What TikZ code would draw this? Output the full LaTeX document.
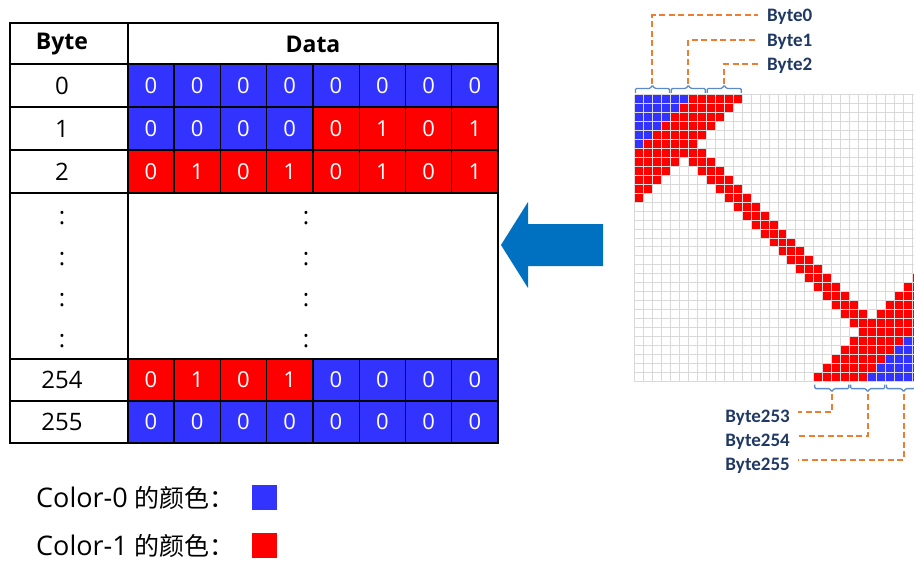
\documentclass[tikz,border=0pt]{standalone}
\usepackage{fontspec}
\setmainfont{Open Sans}
\newfontfamily\cjk{Noto Sans CJK SC}
\newfontfamily\lab{Carlito}
\usetikzlibrary{calc}
\definecolor{cblue}{HTML}{3333FF}
\definecolor{cred}{HTML}{FF0000}
\definecolor{arrowblue}{HTML}{0070C0}
\definecolor{dashor}{HTML}{ED7D31}
\definecolor{navy}{HTML}{1F3864}
\definecolor{brk}{HTML}{5B8BC5}
\definecolor{gridgray}{HTML}{D9D9D9}
\newcommand\datarow[5]{% #1 name, #2 y centre, #3 height, #4 byte label, #5 bit/colour list
  \node[bcell] (#1-b) at (62,#2) {#4};
  \foreach \bit/\col [count=\k from 0] in {#5} {
    \node[dcell, fill=\col, minimum height=#3pt] (#1-\k) at ({127.7+46.29*\k+23.145},#2) {\bit};
  }
}
\begin{document}
\begin{tikzpicture}[x=1pt,y=-1pt,
  dcell/.style={rectangle, minimum width=46.29pt, inner sep=0pt, text=white, font=\fontsize{22}{24}\selectfont},
  bcell/.style={font=\fontsize{24}{26}\selectfont, inner sep=0pt},
  hdr/.style={font=\bfseries\fontsize{23}{25}\selectfont, inner sep=0pt},
  tline/.style={line width=2pt, black},
  sline/.style={line width=1.3pt, black},
  lead/.style={draw=dashor, line width=2pt, dash pattern=on 6pt off 3.5pt},
  brace/.style={draw=brk, line width=1.3pt, rounded corners=1.2pt},
  blab/.style={font=\lab\bfseries\fontsize{19}{20}\selectfont, text=navy, inner sep=0pt},
  colon/.style={font=\fontsize{24}{26}\selectfont, inner sep=0pt, anchor=base},
  legend/.style={font=\fontsize{27}{30}\selectfont, inner sep=0pt, anchor=base west},
  gridline/.style={draw=gridgray, line width=1pt}]
\useasboundingbox (0,0) rectangle (914,562);
\clip (0,0) rectangle (914,562);
% ---------------- table ----------------
\node[hdr] (hbyte) at (62,44) {Byte};
\node[hdr] (hdata) at (313,44) {Data};
\datarow{r0}{85.8}{43}{0}{0/cblue,0/cblue,0/cblue,0/cblue,0/cblue,0/cblue,0/cblue,0/cblue}
\datarow{r1}{128.65}{42.7}{1}{0/cblue,0/cblue,0/cblue,0/cblue,0/cred,1/cred,0/cred,1/cred}
\datarow{r2}{171.35}{42.7}{2}{0/cred,1/cred,0/cred,1/cred,0/cred,1/cred,0/cred,1/cred}
\datarow{r254}{379.85}{41.7}{254}{0/cred,1/cred,0/cred,1/cred,0/cblue,0/cblue,0/cblue,0/cblue}
\datarow{r255}{421.7}{42}{255}{0/cblue,0/cblue,0/cblue,0/cblue,0/cblue,0/cblue,0/cblue,0/cblue}
\foreach \yy [count=\n] in {224.5,265.5,306.5,347.5} {
  \node[colon] (cb\n) at (62,\yy) {:};
  \node[colon] (cd\n) at (306,\yy) {:};
}
\foreach \k in {1,...,7} {
  \draw[sline] ({127.7+46.29*\k},64.3) -- ({127.7+46.29*\k},192.7);
  \draw[sline] ({127.7+46.29*\k},359) -- ({127.7+46.29*\k},442.7);
}
\foreach \yy in {64.3,107.3,150,192.7,359,400.7} {
  \draw[tline] (10,\yy) -- (498,\yy);
}
\draw[tline] (127.7,23.3) -- (127.7,442.7);
\draw[tline] (10,23.3) rectangle (498,442.7);
% ---------------- legend ----------------
\node[legend] (leg0) at (36,507.5) {Color-0 {\cjk\fontsize{25}{27}\selectfont 的颜色：}};
\node[legend] (leg1) at (36,555.5) {Color-1 {\cjk\fontsize{25}{27}\selectfont 的颜色：}};
\node[fill=cblue, minimum size=25pt, inner sep=0pt] (sq0) at (264.5,497.5) {};
\node[fill=cred, minimum size=25pt, inner sep=0pt] (sq1) at (264.5,545) {};
% ---------------- arrow ----------------
\fill[arrowblue] (603,224) -- (528,224) -- (528,202) -- (501,245) -- (528,288) -- (528,266) -- (603,266) -- cycle;
% ---------------- pixel grid ----------------
\foreach \r/\a/\b/\cc in {0/0/5/cblue,0/6/11/cred,1/0/4/cblue,1/5/10/cred,2/0/3/cblue,2/4/9/cred,
  3/0/2/cblue,3/3/8/cred,4/0/1/cblue,4/2/7/cred,5/0/0/cblue,5/1/6/cred,6/0/7/cred,
  7/0/4/cred,7/6/8/cred,8/0/3/cred,8/7/9/cred,9/0/2/cred,9/8/10/cred,10/0/1/cred,10/9/11/cred,
  11/0/0/cred,11/10/12/cred,12/11/13/cred,13/12/14/cred,14/13/15/cred,15/14/16/cred} {
  \foreach \c in {\a,...,\b} {
    \fill[\cc] ({634.5+8.97*\c},{94.5+8.97*\r}) rectangle +(8.97,8.97);
    \fill[\cc] ({634.5+8.97*(31-\c)},{94.5+8.97*(31-\r)}) rectangle +(8.97,8.97);
  }
}
\foreach \i in {0,...,32} {
  \draw[gridline] ({634.5+8.97*\i},94.5) -- ({634.5+8.97*\i},381.5);
  \draw[gridline] (634.5,{94.5+8.97*\i}) -- (921.5,{94.5+8.97*\i});
}
% ---------------- brackets ----------------
\foreach \k in {0,1,2} {
  \pgfmathsetmacro\xa{634.5+35.88*\k+0.9}
  \pgfmathsetmacro\xb{634.5+35.88*(\k+1)-0.9}
  \pgfmathsetmacro\xc{(\xa+\xb)/2}
  \draw[brace] (\xa,92.8) -- (\xa,88.4) -- (\xc-2,88.4) -- (\xc,85) -- (\xc+2,88.4) -- (\xb,88.4) -- (\xb,92.8);
  \coordinate (tb\k) at (\xc,84);
}
\foreach \k/\nm in {0/253,1/254,2/255} {
  \pgfmathsetmacro\xa{634.5+8.97*20+35.88*\k+0.9}
  \pgfmathsetmacro\xb{634.5+8.97*20+35.88*(\k+1)-0.9}
  \pgfmathsetmacro\xc{(\xa+\xb)/2}
  \draw[brace] (\xa,384.5) -- (\xa,388.6) -- (\xc-2,388.6) -- (\xc,392) -- (\xc+2,388.6) -- (\xb,388.6) -- (\xb,384.5);
  \coordinate (bb\nm) at (\xc,394);
}
% ---------------- labels ----------------
\node[blab, anchor=base west] (L0) at (767,21) {Byte0};
\node[blab, anchor=base west] (L1) at (767,46) {Byte1};
\node[blab, anchor=base west] (L2) at (767,70) {Byte2};
\node[blab, anchor=base east] (L253) at (790,422) {Byte253};
\node[blab, anchor=base east] (L254) at (790,446) {Byte254};
\node[blab, anchor=base east] (L255) at (790,470) {Byte255};
\draw[lead] (tb0) |- ($(L0.base west)+(-9,-6)$);
\draw[lead] (tb1) |- ($(L1.base west)+(-9,-6)$);
\draw[lead] (tb2) |- ($(L2.base west)+(-9,-6)$);
\draw[lead] (bb253) |- ($(L253.base east)+(8,-10)$);
\draw[lead] (bb254) |- ($(L254.base east)+(8,-10)$);
\draw[lead] (bb255) |- ($(L255.base east)+(8,-10)$);
\end{tikzpicture}
\end{document}
